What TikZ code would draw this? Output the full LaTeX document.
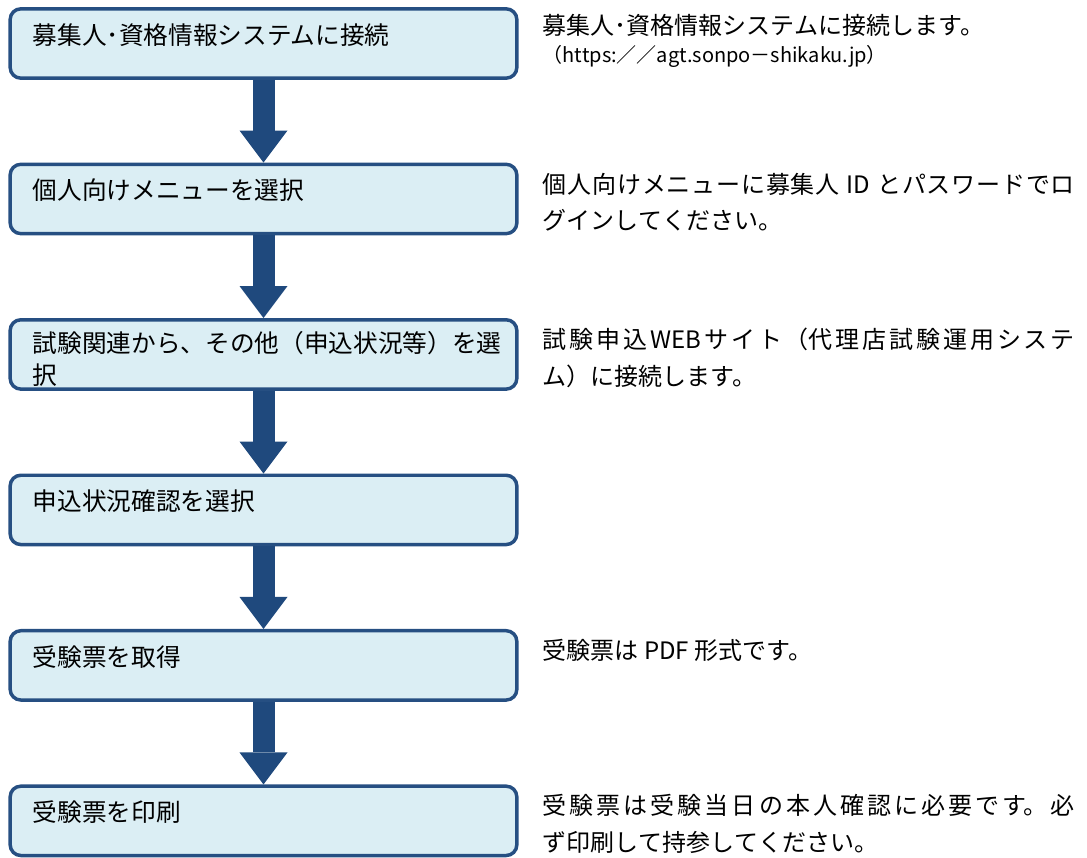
\documentclass[tikz,border=0pt]{standalone}
\usepackage{fontspec}
\setmainfont{Noto Sans CJK JP}
\usetikzlibrary{arrows.meta, positioning}
\XeTeXlinebreaklocale "ja"
\XeTeXlinebreakskip=0pt plus 1pt
\definecolor{boxfill}{RGB}{219,238,244}
\definecolor{boxline}{RGB}{38,79,130}
\definecolor{arrowblue}{RGB}{31,73,125}

\begin{document}
\begin{tikzpicture}[
    x=0.75pt, y=-0.75pt,
    stepbox/.style={draw=boxline, line width=2.6pt, fill=boxfill, rounded corners=8pt, minimum width=380pt, minimum height=52pt},
    steptext/.style={anchor=north west, inner sep=0pt, align=left, font=\fontsize{18.5pt}{23.5pt}\selectfont},
    note/.style={anchor=north west, inner sep=0pt, text width=399pt, align=justify, font=\fontsize{18pt}{27.5pt}\selectfont},
    arrowdown/.style={draw=arrowblue, line width=16.5pt, -{Triangle[width=36pt, length=24pt, line width=0pt]}}
]
\useasboundingbox (0,0) rectangle (1087,857);

% steps (boxes)
\node[stepbox] (s1) at (263.5,43.5) {};
\node[stepbox, below=62pt of s1] (s2) {};
\node[stepbox, below=62pt of s2] (s3) {};
\node[stepbox, below=62pt of s3] (s4) {};
\node[stepbox, below=62pt of s4] (s5) {};
\node[stepbox, below=62pt of s5] (s6) {};

% step labels
\node[steptext, below right=12pt and 18pt of s1.north west] (t1) {募集人･資格情報システムに接続};
\node[steptext, below right=12pt and 18pt of s2.north west] (t2) {個人向けメニューを選択};
\node[steptext, below right=10pt and 18pt of s3.north west] (t3) {試験関連から、その他（申込状況等）を選\\択};
\node[steptext, below right=12pt and 18pt of s4.north west] (t4) {申込状況確認を選択};
\node[steptext, below right=12pt and 18pt of s5.north west] (t5) {受験票を取得};
\node[steptext, below right=12pt and 18pt of s6.north west] (t6) {受験票を印刷};

% arrows between steps
\draw[arrowdown] (s1) -- (s2);
\draw[arrowdown] (s2) -- (s3);
\draw[arrowdown] (s3) -- (s4);
\draw[arrowdown] (s4) -- (s5);
\draw[arrowdown] (s5) -- (s6);

% notes on the right
\node[note, below right=5pt and 18pt of s1.north east] (n1) {募集人･資格情報システムに接続します。\\[-6.5pt]{\fontsize{15pt}{21pt}\selectfont （https:／／agt.sonpo－shikaku.jp）}};
\node[note, below right=7.5pt and 18pt of s2.north east] (n2) {個人向けメニューに募集人 ID とパスワードでロ\linebreak グインしてください。};
\node[note, below right=7.5pt and 18pt of s3.north east] (n3) {試験申込WEBサイト（代理店試験運用システ\linebreak ム）に接続します。};
\node[note, below right=7.5pt and 18pt of s5.north east] (n5) {受験票は PDF 形式です。};
\node[note, below right=7.5pt and 18pt of s6.north east] (n6) {受験票は受験当日の本人確認に必要です。必\linebreak ず印刷して持参してください。};

\end{tikzpicture}
\end{document}
